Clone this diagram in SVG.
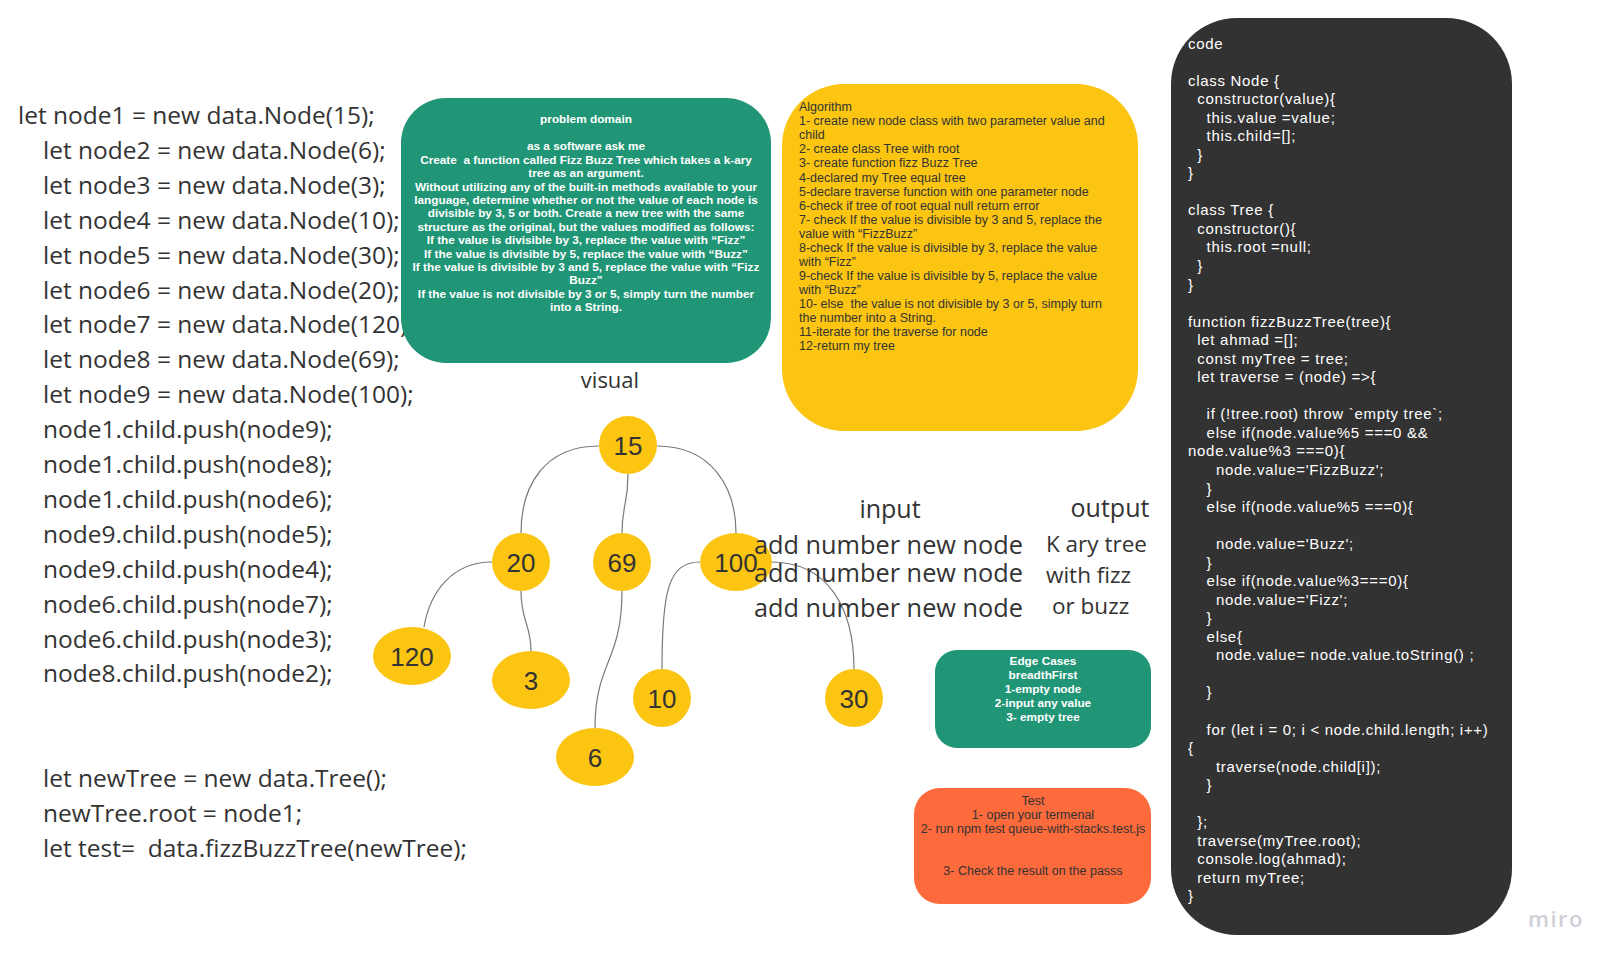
<svg xmlns="http://www.w3.org/2000/svg" width="1618" height="965" viewBox="0 0 1618 965">
<style>
text{white-space:pre}
.os{font-family:"Open Sans","Liberation Sans",sans-serif;fill:#333333}
.lc{font-size:24.5px}
.ar{font-family:"Liberation Sans",Arial,sans-serif}
.pd{font-size:11.8px;font-weight:bold;fill:#ffffff;text-anchor:middle}
.al{font-size:12.5px;fill:#333333}
.cd{font-size:15px;fill:#ffffff;letter-spacing:0.7px}
.ts{font-size:12.5px;fill:#333333;text-anchor:middle}
.nd{fill:#fbc512}
.nt{font-family:"Liberation Sans",Arial,sans-serif;font-size:26px;fill:#333333;text-anchor:middle}
.cn{fill:none;stroke:#7a7a7a;stroke-width:1.2}
</style>
<rect width="1618" height="965" fill="#ffffff"/>

<g id="setup-code" class="os lc">
<text x="18" y="124">let node1 = new data.Node(15);</text>
<text x="43" y="158.9">let node2 = new data.Node(6);</text>
<text x="43" y="193.8">let node3 = new data.Node(3);</text>
<text x="43" y="228.7">let node4 = new data.Node(10);</text>
<text x="43" y="263.6">let node5 = new data.Node(30);</text>
<text x="43" y="298.5">let node6 = new data.Node(20);</text>
<text x="43" y="333.4">let node7 = new data.Node(120);</text>
<text x="43" y="368.3">let node8 = new data.Node(69);</text>
<text x="43" y="403.2">let node9 = new data.Node(100);</text>
<text x="43" y="438.1">node1.child.push(node9);</text>
<text x="43" y="473">node1.child.push(node8);</text>
<text x="43" y="507.9">node1.child.push(node6);</text>
<text x="43" y="542.8">node9.child.push(node5);</text>
<text x="43" y="577.7">node9.child.push(node4);</text>
<text x="43" y="612.6">node6.child.push(node7);</text>
<text x="43" y="647.5">node6.child.push(node3);</text>
<text x="43" y="682.4">node8.child.push(node2);</text>
<text x="43" y="787">let newTree = new data.Tree();</text>
<text x="43" y="822">newTree.root = node1;</text>
<text x="43" y="857" xml:space="preserve">let test=  data.fizzBuzzTree(newTree);</text>
</g>

<g id="problem-domain">
<rect x="401" y="98" width="370" height="265" rx="45" fill="#219676"/>
<g class="ar pd">
<text x="586" y="122.6">problem domain</text>
<text x="586" y="150.3">as a software ask me</text>
<text x="586" y="163.7" xml:space="preserve">Create  a function called Fizz Buzz Tree which takes a k-ary</text>
<text x="586" y="177.1">tree as an argument.</text>
<text x="586" y="190.5">Without utilizing any of the built-in methods available to your</text>
<text x="586" y="203.9">language, determine whether or not the value of each node is</text>
<text x="586" y="217.3">divisible by 3, 5 or both. Create a new tree with the same</text>
<text x="586" y="230.7">structure as the original, but the values modified as follows:</text>
<text x="586" y="244.1">If the value is divisible by 3, replace the value with “Fizz”</text>
<text x="586" y="257.5">If the value is divisible by 5, replace the value with “Buzz”</text>
<text x="586" y="270.9">If the value is divisible by 3 and 5, replace the value with “Fizz</text>
<text x="586" y="284.3">Buzz”</text>
<text x="586" y="297.7">If the value is not divisible by 3 or 5, simply turn the number</text>
<text x="586" y="311.1">into a String.</text>
</g>
</g>

<g id="algorithm">
<rect x="782" y="84" width="356" height="347" rx="62" fill="#fbc512"/>
<g class="ar al">
<text x="799" y="111.2">Algorithm</text>
<text x="799" y="125.3">1- create new node class with two parameter value and</text>
<text x="799" y="139.3">child</text>
<text x="799" y="153.4">2- create class Tree with root</text>
<text x="799" y="167.4">3- create function fizz Buzz Tree</text>
<text x="799" y="181.5">4-declared my Tree equal tree</text>
<text x="799" y="195.6">5-declare traverse function with one parameter node</text>
<text x="799" y="209.6">6-check if tree of root equal null return error</text>
<text x="799" y="223.7">7- check If the value is divisible by 3 and 5, replace the</text>
<text x="799" y="237.7">value with “FizzBuzz”</text>
<text x="799" y="251.8">8-check If the value is divisible by 3, replace the value</text>
<text x="799" y="265.9">with “Fizz”</text>
<text x="799" y="279.9">9-check If the value is divisible by 5, replace the value</text>
<text x="799" y="294.0">with “Buzz”</text>
<text x="799" y="308.0" xml:space="preserve">10- else  the value is not divisible by 3 or 5, simply turn</text>
<text x="799" y="322.1">the number into a String.</text>
<text x="799" y="336.2">11-iterate for the traverse for node</text>
<text x="799" y="350.2">12-return my tree</text>
</g>
</g>

<g id="code">
<rect x="1171" y="18" width="341" height="917" rx="66" fill="#323232"/>
<g class="ar cd">
<text x="1188" y="48.5">code</text>
<text x="1188" y="85.6">class Node {</text>
<text x="1197.3" y="104.1">constructor(value){</text>
<text x="1206.6" y="122.7">this.value =value;</text>
<text x="1206.6" y="141.2">this.child=[];</text>
<text x="1197.3" y="159.7">}</text>
<text x="1188" y="178.3">}</text>
<text x="1188" y="215.4">class Tree {</text>
<text x="1197.3" y="233.9">constructor(){</text>
<text x="1206.6" y="252.4">this.root =null;</text>
<text x="1197.3" y="271.0">}</text>
<text x="1188" y="289.5">}</text>
<text x="1188" y="326.6">function fizzBuzzTree(tree){</text>
<text x="1197.3" y="345.1">let ahmad =[];</text>
<text x="1197.3" y="363.7">const myTree = tree;</text>
<text x="1197.3" y="382.2">let traverse = (node) =&gt;{</text>
<text x="1206.6" y="419.3">if (!tree.root) throw `empty tree`;</text>
<text x="1206.6" y="437.8">else if(node.value%5 ===0 &amp;&amp;</text>
<text x="1188" y="456.4">node.value%3 ===0){</text>
<text x="1215.9" y="474.9">node.value='FizzBuzz';</text>
<text x="1206.6" y="493.5">}</text>
<text x="1206.6" y="512.0">else if(node.value%5 ===0){</text>
<text x="1215.9" y="549.1">node.value='Buzz';</text>
<text x="1206.6" y="567.6">}</text>
<text x="1206.6" y="586.2">else if(node.value%3===0){</text>
<text x="1215.9" y="604.7">node.value='Fizz';</text>
<text x="1206.6" y="623.2">}</text>
<text x="1206.6" y="641.8">else{</text>
<text x="1215.9" y="660.3">node.value= node.value.toString() ;</text>
<text x="1206.6" y="697.4">}</text>
<text x="1206.6" y="734.5">for (let i = 0; i &lt; node.child.length; i++)</text>
<text x="1188" y="753.0">{</text>
<text x="1215.9" y="771.6">traverse(node.child[i]);</text>
<text x="1206.6" y="790.1">}</text>
<text x="1197.3" y="827.2">};</text>
<text x="1197.3" y="845.7">traverse(myTree.root);</text>
<text x="1197.3" y="864.3">console.log(ahmad);</text>
<text x="1197.3" y="882.8">return myTree;</text>
<text x="1188" y="901.3">}</text>
</g>
</g>

<g id="edge-cases">
<rect x="935" y="650" width="216" height="98" rx="22" fill="#219676"/>
<g class="ar pd">
<text x="1043" y="665">Edge Cases</text>
<text x="1043" y="678.9">breadthFirst</text>
<text x="1043" y="692.8">1-empty node</text>
<text x="1043" y="706.7">2-input any value</text>
<text x="1043" y="720.6">3- empty tree</text>
</g>
</g>

<g id="test">
<rect x="914" y="788" width="237" height="116" rx="26" fill="#fd6a3c"/>
<g class="ar ts">
<text x="1033" y="804.5">Test</text>
<text x="1033" y="818.5">1- open your termenal</text>
<text x="1033" y="832.5">2- run npm test queue-with-stacks.test.js</text>
<text x="1033" y="874.5">3- Check the result on the passs</text>
</g>
</g>

<g id="connectors" class="cn">
<path d="M599,446 C545,446 521,485 521,533"/>
<path d="M628,474 C628,505 622,505 622,533"/>
<path d="M657,446 C712,446 736,488 736,533"/>
<path d="M492,562 C452,562 430,592 424,627"/>
<path d="M521,591 C521,622 531,624 531,651"/>
<path d="M622,591 C622,662 595,662 595,728"/>
<path d="M700,562 C668,562 662,592 662,669"/>
<path d="M771,562 C828,562 854,608 854,669"/>
</g>

<g id="node-15"><ellipse class="nd" cx="628" cy="445" rx="29" ry="29"/><text class="nt" x="628" y="454.5">15</text></g>
<g id="node-20"><ellipse class="nd" cx="521" cy="562" rx="29" ry="29"/><text class="nt" x="521" y="571.5">20</text></g>
<g id="node-69"><ellipse class="nd" cx="622" cy="562" rx="29" ry="29"/><text class="nt" x="622" y="571.5">69</text></g>
<g id="node-100"><ellipse class="nd" cx="736" cy="562" rx="36" ry="29"/><text class="nt" x="736" y="571.5">100</text></g>
<g id="node-120"><ellipse class="nd" cx="412" cy="656" rx="39" ry="29"/><text class="nt" x="412" y="665.5">120</text></g>
<g id="node-3"><ellipse class="nd" cx="531" cy="680" rx="39" ry="29"/><text class="nt" x="531" y="689.5">3</text></g>
<g id="node-10"><ellipse class="nd" cx="662" cy="698" rx="29" ry="29"/><text class="nt" x="662" y="707.5">10</text></g>
<g id="node-30"><ellipse class="nd" cx="854" cy="698" rx="29" ry="29"/><text class="nt" x="854" y="707.5">30</text></g>
<g id="node-6"><ellipse class="nd" cx="595" cy="757" rx="39" ry="29"/><text class="nt" x="595" y="766.5">6</text></g>

<g id="labels" class="os">
<text x="610" y="388" font-size="22" text-anchor="middle">visual</text>
<text x="890" y="518" font-size="25" text-anchor="middle">input</text>
<text x="754" y="554" font-size="25.3">add number new node</text>
<text x="754" y="582" font-size="25.3">add number new node</text>
<text x="754" y="617" font-size="25.3">add number new node</text>
<text x="1110" y="517" font-size="25" text-anchor="middle">output</text>
<text x="1046" y="552" font-size="22.5">K ary tree</text>
<text x="1046" y="583" font-size="22.5">with fizz</text>
<text x="1052" y="614" font-size="22.5">or buzz</text>
</g>

<text x="1528" y="927" font-family="'Open Sans','Liberation Sans',sans-serif" font-size="22" font-weight="600" letter-spacing="1.5" fill="#cfcfd8">miro</text>
</svg>
